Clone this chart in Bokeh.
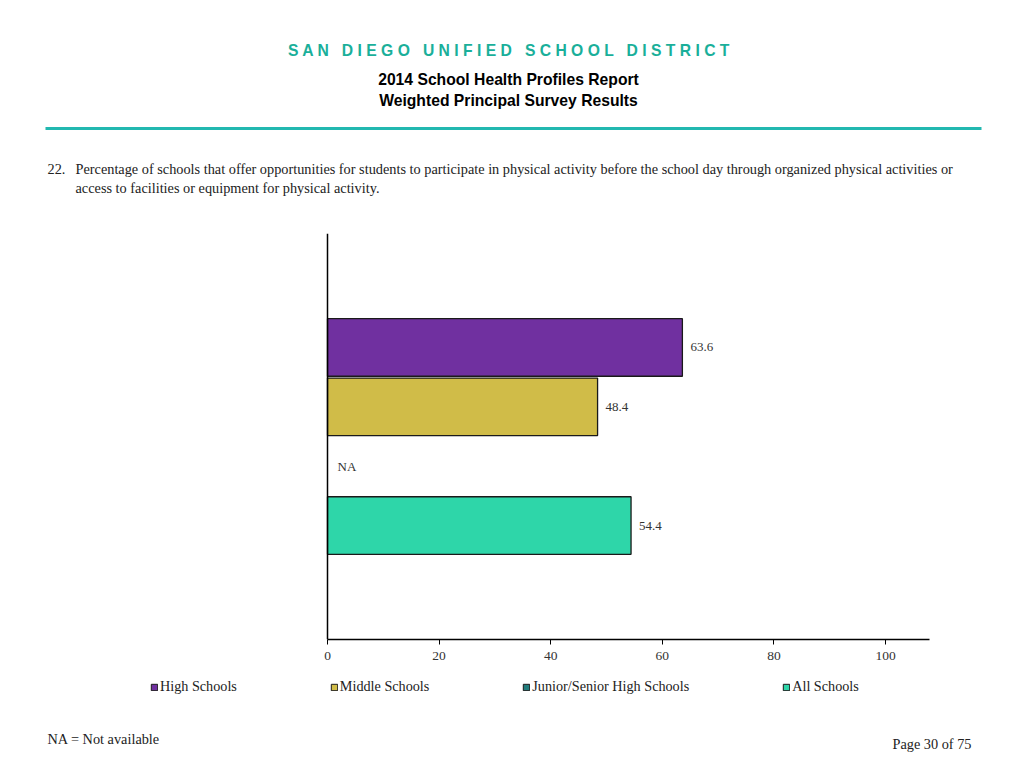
import math
from bokeh.plotting import figure
from bokeh.layouts import column
from bokeh.models import (ColumnDataSource, Range1d, FixedTicker, Label, BoxAnnotation,
                          Legend, LegendItem, Span)
from bokeh.core.properties import value
from bokeh.embed import file_html
from bokeh.resources import INLINE

# ---- data ----
categories = ["High Schools", "Middle Schools", "Junior/Senior High Schools", "All Schools"]
values = [63.6, 48.4, float("nan"), 54.4]
colors = ["#7030A0", "#D0BC48", "#217C7C", "#2ED6A9"]
x_ticks = [0, 20, 40, 60, 80, 100]

NB = "\u00a0"
header_words = ["SAN", "DIEGO", "UNIFIED", "SCHOOL", "DISTRICT"]
header = (" " + NB + " ").join(" ".join(w) for w in header_words)
title1 = "2014 School Health Profiles Report"
title2 = "Weighted Principal Survey Results"
q_num = "22."
q_line1 = ("Percentage of schools that offer opportunities for students to participate in physical "
           "activity before the school day through organized physical activities or")
q_line2 = "access to facilities or equipment for physical activity."
footnote = "NA = Not available"
page_txt = "Page 30 of 75"

SERIF = "Liberation Serif"
SANS = "Liberation Sans"
W = 1016

n = len(categories)
ypos = [n - i for i in range(n)]
labels = ["NA" if math.isnan(v) else f"{v:.1f}" for v in values]
label_x = [0 if math.isnan(v) else v for v in values]
label_off = [10 if math.isnan(v) else 8 for v in values]

src = ColumnDataSource(dict(cat=categories, val=values, y=ypos, color=colors,
                            lab=labels, lx=label_x, loff=label_off))


def blank_fig(h):
    f = figure(width=W, height=h, output_backend="svg", toolbar_location=None,
               x_axis_type=None, y_axis_type=None, x_range=Range1d(0, 1), y_range=Range1d(0, 1),
               min_border=0)
    f.outline_line_color = None
    f.xgrid.visible = False
    f.ygrid.visible = False
    return f


def lab(f, H, text, rx, ry, font=SERIF, size="14.3px", color="#222222", align="left", bold=False):
    f.add_layout(Label(x=rx, y=H - ry, x_units="screen", y_units="screen", text=text,
                       text_font=font, text_font_size=size, text_color=color,
                       text_align=align, text_baseline="middle",
                       text_font_style="bold" if bold else "normal"))


# ---- header ----
HH = 215
head = blank_fig(HH)
lab(head, HH, header, 509, 50, font=SANS, size="15.7px", color="#1AAF9A", align="center", bold=True)
lab(head, HH, title1, 508, 79, font=SANS, size="15.7px", color="black", align="center", bold=True)
lab(head, HH, title2, 508, 100, font=SANS, size="15.7px", color="black", align="center", bold=True)
lab(head, HH, q_num, 47, 168)
lab(head, HH, q_line1, 75, 168)
lab(head, HH, q_line2, 75, 187)
head.add_layout(BoxAnnotation(left=45, right=981, bottom=HH - 129.5, top=HH - 126.5,
                              left_units="screen", right_units="screen",
                              bottom_units="screen", top_units="screen",
                              fill_color="#22B8B0", fill_alpha=1, line_color=None))

# ---- chart (frame spans the full width; 0 sits at x=327, 100 at x=885) ----
CH_TOP, CH_BOT = 215, 670
PX0, PX100 = 327, 885
ppu = (PX100 - PX0) / 100.0
p = figure(width=W, height=CH_BOT - CH_TOP, output_backend="svg", toolbar_location=None,
           x_range=Range1d(-PX0 / ppu, (W - PX0) / ppu), y_range=Range1d(-0.92, n + 1.92),
           y_axis_type=None, min_border_left=0, min_border_right=0,
           min_border_top=233 - CH_TOP, min_border_bottom=CH_BOT - 639)
p.outline_line_color = None
p.xgrid.visible = False
p.ygrid.visible = False

bars = p.hbar(y="y", right="val", left=0, height=0.97, fill_color="color",
              line_color="#1a1a1a", line_width=1.3, source=src)

p.text(x="lx", y="y", text="lab", x_offset="loff", source=src, text_baseline="middle",
       text_align="left", text_font=value(SERIF), text_font_size="13px", text_color="#333333")

p.add_layout(Span(location=0, dimension="height", line_color="black", line_width=1.5))

p.xaxis.bounds = (0, (929 - PX0) / ppu)
p.xaxis.ticker = FixedTicker(ticks=x_ticks)
p.xaxis.axis_line_color = "black"
p.xaxis.axis_line_width = 1.5
p.xaxis.major_tick_line_color = "black"
p.xaxis.major_tick_out = 5
p.xaxis.major_tick_in = 0
p.xaxis.minor_tick_line_color = None
p.xaxis.major_label_text_font = SERIF
p.xaxis.major_label_text_font_size = "13.5px"
p.xaxis.major_label_text_color = "#333333"
p.xaxis.major_label_standoff = 7

# ---- footer with legend ----
FH = 760 - CH_BOT
foot = blank_fig(FH)
foot.y_range = Range1d(500, 501)  # legend-only renderer kept out of view
leg_r = foot.hbar(y="y", right="val", left=0, height=0.97, fill_color="color",
                  line_color="#1a1a1a", line_width=1, source=src)
items = [LegendItem(label=c, renderers=[leg_r], index=i) for i, c in enumerate(categories)]
legend = Legend(items=items, orientation="horizontal", location=(150, FH - (695 - CH_BOT)),
                spacing=93, label_standoff=2, glyph_width=8, glyph_height=8,
                label_height=14, label_text_font=SERIF, label_text_font_size="14.2px",
                label_text_color="#222222", padding=0, margin=0,
                border_line_color=None, background_fill_alpha=0)
foot.add_layout(legend, "center")
lab(foot, FH, footnote, 47, 738 - CH_BOT)
lab(foot, FH, page_txt, 971, 743 - CH_BOT, align="right")

layout = column(head, p, foot, spacing=0)
open("out.html", "w").write(file_html(layout, INLINE))
